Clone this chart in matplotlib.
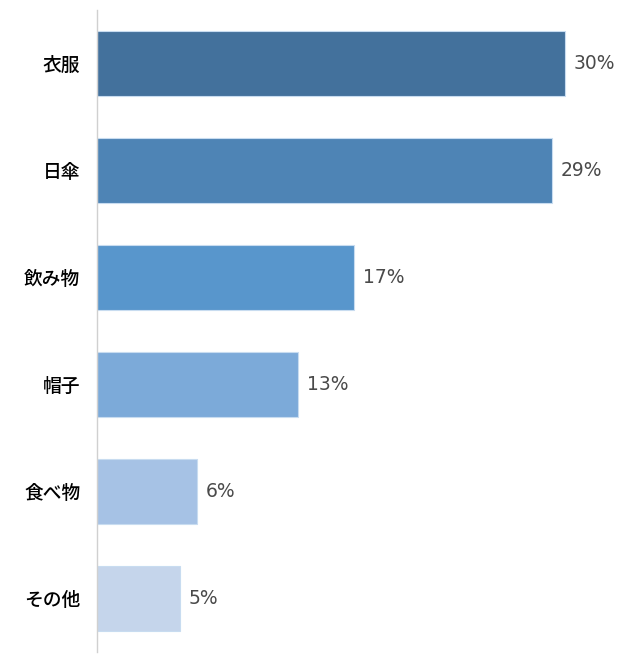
import matplotlib.pyplot as plt

plt.rcParams['font.family'] = ['Noto Sans CJK JP', 'DejaVu Sans']

categories = ["衣服", "日傘", "飲み物", "帽子", "食べ物", "その他"]
values = [30.0, 29.2, 16.5, 12.9, 6.4, 5.3]
labels = ["30%", "29%", "17%", "13%", "6%", "5%"]
colors = ["#43719c", "#4e84b5", "#5896cc", "#7caad9", "#a6c2e5", "#c5d5eb"]

fig = plt.figure(figsize=(6.21, 6.6), dpi=100)
ax = fig.add_axes([97 / 621, 8 / 660, 513 / 621, 642 / 660])

pos = list(range(len(categories)))
bars = ax.barh(pos, values, height=0.61, color=colors, edgecolor="#c8dcf0", linewidth=0.8)
for b, lab in zip(bars, labels):
    ax.text(b.get_width() + 0.55, b.get_y() + b.get_height() / 2, lab,
            va="center", ha="left", fontsize=13.5, color="#4a4a4a",
            family="DejaVu Sans")

ax.set_ylim(5.5, -0.5)
ax.set_xlim(0, 32.9)
ax.set_yticks(pos)
ax.set_yticklabels(categories, fontsize=13.5, fontweight="medium", color="#000000")
ax.tick_params(axis="y", length=0, pad=12)
ax.set_xticks([])
for s in ["top", "right", "bottom"]:
    ax.spines[s].set_visible(False)
ax.spines["left"].set_color("#d0d0d0")
ax.spines["left"].set_linewidth(1)

fig.savefig("out.png", dpi=100)
